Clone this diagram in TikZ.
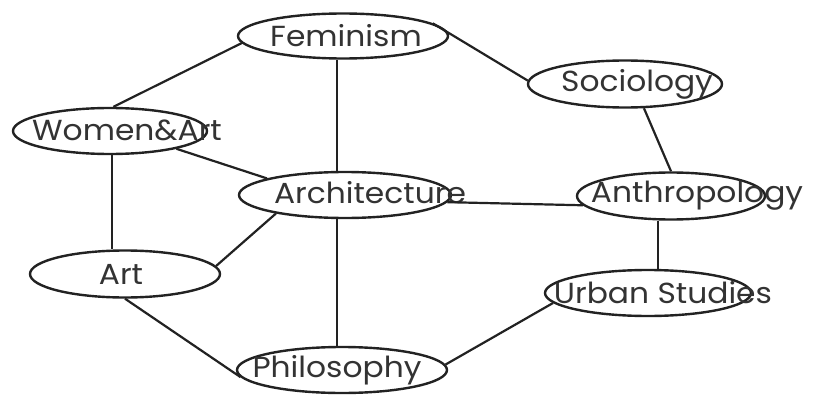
\documentclass[tikz,border=0pt]{standalone}
\usepackage{fontspec}
\setmainfont{Poppins}[FakeStretch=1.08]
\usetikzlibrary{shapes.geometric}
\definecolor{ink}{HTML}{222222}
\definecolor{txt}{HTML}{333333}
\begin{document}
\begin{tikzpicture}[x=1pt,y=-1pt,
  oval/.style={draw=ink,line width=2.4pt,ellipse,inner sep=0pt,minimum width=#1},
  lbl/.style={text=txt,font=\fontsize{29}{29}\selectfont,inner sep=0pt,anchor=center},
  link/.style={draw=ink,line width=2.2pt}]
\useasboundingbox[fill=white] (0,0) rectangle (814,396);
% ellipses
\node[oval=210pt,minimum height=45pt] (fem) at (343,36) {};
\node[oval=194pt,minimum height=47pt] (soc) at (625,84) {};
\node[oval=194pt,minimum height=46pt] (wa) at (110,131) {};
\node[oval=212pt,minimum height=46pt] (arch) at (345,195) {};
\node[oval=188pt,minimum height=47pt] (anth) at (671,196) {};
\node[oval=190pt,minimum height=47pt] (art) at (125,274) {};
\node[oval=206pt,minimum height=46pt] (urb) at (648,293) {};
\node[oval=210pt,minimum height=46pt] (phil) at (342,370) {};
% labels
\node[lbl] (tfem) at (346,36) {Feminism};
\node[lbl] (tsoc) at (637,84) {Sociology};
\node[lbl] (twa) at (127,130) {Women\&Art};
\node[lbl] (tarch) at (370,193) {Architecture};
\node[lbl] (tanth) at (697,196) {Anthropology};
\node[lbl] (tart) at (121,274) {Art};
\node[lbl] (turb) at (663,293) {Urban Studies};
\node[lbl] (tphil) at (337,370) {Philosophy};
% connectors
\coordinate (vx) at (337,0);
\coordinate (vw) at (112,0);
\coordinate (vu) at (658,0);
\draw[link] (fem.184) -- (wa.82);
\draw[link] (fem.8) -- (soc.178);
\draw[link] (fem.south -| vx) -- (arch.north -| vx);
\draw[link] (wa.345) -- (arch.168);
\draw[link] (wa.south -| vw) -- (art.north -| vw);
\draw[link] (art.5) -- (arch.195);
\draw[link] (arch.356) -- (anth.186);
\draw[link] (arch.south -| vx) -- (phil.north -| vx);
\draw[link] (art.south) -- (phil.184);
\draw[link] (soc.308) -- (anth.north);
\draw[link] (anth.south -| vu) -- (urb.north -| vu);
\draw[link] (urb.186) -- (phil.3);
\end{tikzpicture}
\end{document}
